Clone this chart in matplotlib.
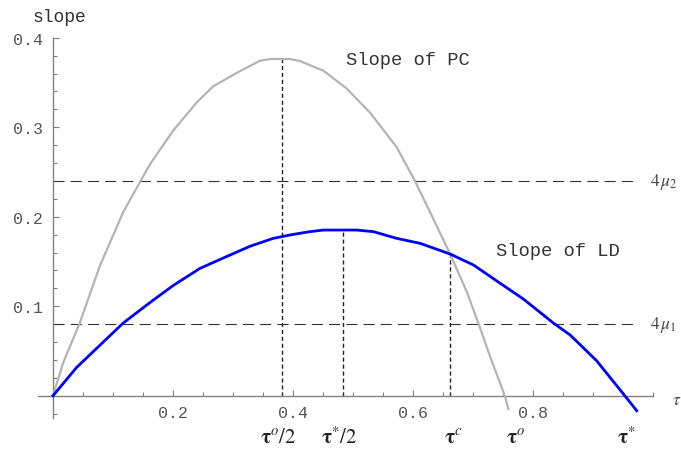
import matplotlib
matplotlib.use("Agg")
import matplotlib.pyplot as plt
from matplotlib.ticker import MultipleLocator, FixedLocator

plt.rcParams['mathtext.fontset'] = 'stix'

# ---- data ----
pc_tau = [0, 0.0172, 0.045, 0.078, 0.117, 0.151, 0.162, 0.2, 0.24, 0.267, 0.306,
          0.345, 0.362, 0.395, 0.412, 0.451, 0.489, 0.528, 0.573, 0.603, 0.634,
          0.662, 0.690, 0.709, 0.728, 0.753, 0.759]
pc_slope = [0, 0.0373, 0.082, 0.145, 0.205, 0.246, 0.259, 0.296, 0.328, 0.3457,
            0.3606, 0.3743, 0.3762, 0.3762, 0.3738, 0.363, 0.3435, 0.3166, 0.2775,
            0.2402, 0.1974, 0.1583, 0.1155, 0.081, 0.0447, 0.0, -0.0149]

ld_tau = [0, 0.0395, 0.117, 0.162, 0.2, 0.245, 0.29, 0.328, 0.367, 0.395, 0.412,
          0.428, 0.451, 0.506, 0.534, 0.573, 0.612, 0.662, 0.701, 0.739, 0.784,
          0.834, 0.862, 0.906, 0.953, 0.973]
ld_slope = [0, 0.0317, 0.0812, 0.1043, 0.123, 0.1423, 0.1557, 0.1669, 0.1758,
            0.1796, 0.1815, 0.1833, 0.1851, 0.1851, 0.1833, 0.1758, 0.1702, 0.1583,
            0.146, 0.1285, 0.108, 0.0812, 0.0678, 0.0391, 0.0, -0.0168]

mu_levels = [0.24, 0.08]
mu_labels = [r'$4\,\mu_2$', r'$4\,\mu_1$']
hline_end = 0.967

vline_tau = [0.381, 0.484, 0.662]
vline_top = [0.3762, 0.1851, 0.1583]

tau_mark_pos = [0.375, 0.477, 0.667, 0.772, 0.955]
tau_mark_labels = [r'$\mathbf{\tau}^{o}/2$', r'$\mathbf{\tau}^{*}/2$',
                   r'$\mathbf{\tau}^{c}$', r'$\mathbf{\tau}^{o}$', r'$\mathbf{\tau}^{*}$']

x_ticks = [0.2, 0.4, 0.6, 0.8]
y_ticks = [0.1, 0.2, 0.3, 0.4]

# ---- figure ----
W, H = 681, 452
fig = plt.figure(figsize=(W / 100, H / 100), dpi=100)
left_px, right_px = 38, 653
top_px, bot_px = 38.7, 419.1
ax = fig.add_axes([left_px / W, (H - bot_px) / H, (right_px - left_px) / W, (bot_px - top_px) / H])
ax.set_xlim(-0.025, 1.0)
ax.set_ylim(-0.025, 0.4)

axis_col = '#808080'
for s in ['top', 'right']:
    ax.spines[s].set_visible(False)
ax.spines['left'].set_position(('data', 0))
ax.spines['bottom'].set_position(('data', 0))
for s in ['left', 'bottom']:
    ax.spines[s].set_color(axis_col)
    ax.spines[s].set_linewidth(1.0)

ax.xaxis.set_major_locator(FixedLocator(x_ticks))
ax.xaxis.set_minor_locator(MultipleLocator(0.05))
ax.yaxis.set_major_locator(FixedLocator(y_ticks))
ax.yaxis.set_minor_locator(MultipleLocator(0.02))
ax.set_xticklabels(['%.1f' % v for v in x_ticks])
ax.set_yticklabels(['%.1f' % v for v in y_ticks])

mono = 'Liberation Mono'
ax.tick_params(which='both', direction='in', color=axis_col, width=0.8)
ax.tick_params(which='major', length=4)
ax.tick_params(which='minor', length=3)
ax.tick_params(axis='x', pad=7, labelsize=12, labelcolor='#555555')
ax.tick_params(axis='y', pad=7, labelsize=12, labelcolor='#555555')
for lab in ax.get_xticklabels() + ax.get_yticklabels():
    lab.set_fontfamily(mono)

# dashed horizontal lines
for lvl, lab in zip(mu_levels, mu_labels):
    ax.plot([0, hline_end], [lvl, lvl], color='#333333', lw=0.8,
            linestyle=(0, (10, 5.5)), zorder=2)
    ax.text(0.995, lvl, lab, fontsize=12.5, color='#444444', ha='left', va='center',
            clip_on=False)

# vertical dashed lines
for t, top in zip(vline_tau, vline_top):
    ax.plot([t, t], [0, top], color='#222222', lw=1.0, linestyle=(0, (3, 2)), zorder=2)

# curves
ax.plot(pc_tau, pc_slope, color='#b4b4b4', lw=1.6, zorder=3)
ax.plot(ld_tau, ld_slope, color='#0000ff', lw=2.0, zorder=4)

# texts
ax.text(0.488, 0.376, 'Slope of PC', fontfamily=mono, fontsize=13.5, color='#333333',
        ha='left', va='center')
ax.text(0.738, 0.1617, 'Slope of LD', fontfamily=mono, fontsize=13.5, color='#333333',
        ha='left', va='center')
ax.text(-0.035, 0.424, 'slope', fontfamily=mono, fontsize=13, color='#333333',
        ha='left', va='center', clip_on=False)
ax.text(1.032, -0.004, r'$\tau$', fontsize=12.5, color='#444444', ha='left', va='center',
        clip_on=False)

for p, lab in zip(tau_mark_pos, tau_mark_labels):
    ax.text(p, -0.0455, lab, fontsize=15, color='#222222', ha='center', va='center',
            clip_on=False)

fig.savefig('out.png', dpi=100)
